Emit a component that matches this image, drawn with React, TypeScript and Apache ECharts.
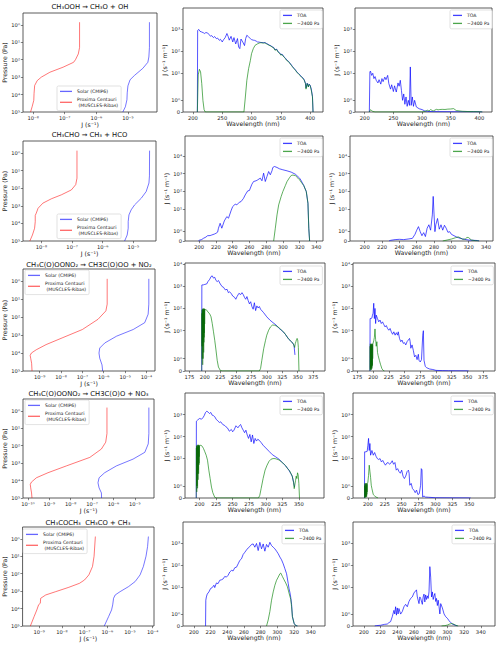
import React, { useEffect, useRef } from "react";
import * as echarts from "echarts";

type Pt = [number, number];

// ---------------- texts ----------------
const titles = [
  "CH₃OOH → CH₃O + OH",
  "CH₃CHO → CH₃ + HCO",
  "CH₃C(O)OONO₂ → CH3C(O)OO + NO₂",
  "CH₃C(O)OONO₂ → CH3C(O)O + NO₃",
  "CH₃COCH₃  CH₃CO + CH₃",
];
const solarName = "Solar (CMIP6)";
const proxName = "Proxima Centauri\n (MUSCLES-Ribas)";
const toaName = "TOA";
const lowName = "~2400 Pa";
const pressureLabel = "Pressure (Pa)";
const jLabel = "J (s⁻¹)";
const specYLabel = "J (s⁻¹ m⁻¹)";
const wlLabel = "Wavelength (nm)";

// ---------------- axis ticks / extents ----------------
const symTicks = [0, 1, 10, 100, 1000, 10000];
const wlTicks = [
  [200, 250, 300, 350, 400],
  [200, 220, 240, 260, 280, 300, 320, 340],
  [175, 200, 225, 250, 275, 300, 325, 350, 375],
  [200, 225, 250, 275, 300, 325, 350],
  [200, 220, 240, 260, 280, 300, 320, 340],
];
const wlExtents = [[183, 422], [183, 348], [168, 394], [178, 388], [187, 357]];
const jLogExtents = [[-8.32, -4.08], [-8.6, -4.26], [-9.78, -3.6], [-10.23, -4.1], [-9.73, -3.94]];
const pressureExtent = [0.21, 1e5];
const symMaxes = [4.8, 5.93, 4.85, 4.8, 4.8];

// ---------------- vertical profiles [J (s-1), P (Pa)] ----------------
const ch3oohSolarJ: Pt[] = [[4.79e-5, 0.708], [4.79e-5, 20], [4.6e-5, 70], [4.27e-5, 141], [2.95e-5, 316], [1.62e-5, 794], [1.17e-5, 1413], [1.0e-5, 3162], [9.5e-6, 7943], [9.3e-6, 19950], [8.3e-6, 50100], [6.9e-6, 100000]];
const ch3oohProxJ: Pt[] = [[2.95e-7, 0.708], [2.95e-7, 20], [2.69e-7, 46.8], [2.19e-7, 100], [1.91e-7, 141], [8.9e-8, 269], [3.39e-8, 525], [1.82e-8, 1000], [1.35e-8, 1585], [1.12e-8, 3020], [1.07e-8, 8900], [1.05e-8, 21400], [9.3e-9, 50100], [8.3e-9, 100000]];
const ch3choSolarJ: Pt[] = [[3.39e-5, 0.74], [3.36e-5, 20], [3.24e-5, 51], [2.63e-5, 155], [1.82e-5, 372], [1.1e-5, 891], [8.5e-6, 1700], [7.2e-6, 3311], [6.8e-6, 7943], [6.8e-6, 19050], [6.3e-6, 45700], [5.2e-6, 100000]];
const ch3choProxJ: Pt[] = [[1.45e-7, 0.74], [1.45e-7, 27], [1.32e-7, 63], [9.5e-8, 126], [4.47e-8, 240], [2.14e-8, 398], [1.12e-8, 708], [7.8e-9, 1380], [6.8e-9, 2630], [6.3e-9, 3550], [6.3e-9, 7943], [6.0e-9, 19050], [5.1e-9, 45700], [4.2e-9, 100000]];
const pan1SolarJ: Pt[] = [[1.29e-4, 0.74], [1.29e-4, 19], [1.2e-4, 69], [8.3e-5, 204], [2.4e-5, 490], [4.0e-6, 1150], [1.12e-6, 2750], [6.5e-7, 5250], [6.0e-7, 10000], [6.5e-7, 19500], [8.3e-7, 45700], [8.9e-7, 100000]];
const pan1ProxJ: Pt[] = [[1.45e-6, 0.74], [1.45e-6, 19], [1.26e-6, 45], [5.4e-7, 132], [1.0e-7, 490], [1.12e-8, 1445], [2.0e-9, 3390], [6.9e-10, 6600], [4.1e-10, 10000], [3.6e-10, 13500], [3.8e-10, 19500], [4.2e-10, 37150], [4.4e-10, 100000]];
const pan2SolarJ: Pt[] = [[4.57e-5, 0.65], [4.57e-5, 20], [4.27e-5, 79], [2.95e-5, 240], [8.3e-6, 589], [1.38e-6, 1445], [3.9e-7, 3550], [2.14e-7, 6900], [1.9e-7, 13500], [2.14e-7, 26300], [2.75e-7, 51300], [2.8e-7, 100000]];
const pan2ProxJ: Pt[] = [[5.0e-7, 0.65], [5.0e-7, 20], [4.37e-7, 63], [2.75e-7, 155], [7.9e-8, 468], [6.3e-9, 1445], [8.7e-10, 3550], [2.5e-10, 6900], [1.45e-10, 12300], [1.29e-10, 16600], [1.35e-10, 26300], [1.48e-10, 51300], [1.55e-10, 100000]];
const acetoneSolarJ: Pt[] = [[6.5e-5, 0.74], [6.0e-5, 2.75], [5.1e-5, 10], [3.9e-5, 39], [2.8e-5, 117], [1.7e-5, 282], [8.7e-6, 550], [3.7e-6, 1070], [2.24e-6, 1660], [1.9e-6, 2570], [1.74e-6, 6170], [1.55e-6, 12000], [1.15e-6, 28800], [7.4e-7, 100000]];
const acetoneProxJ: Pt[] = [[3.0e-7, 0.74], [2.63e-7, 10], [2.24e-7, 39], [1.55e-7, 117], [1.0e-7, 229], [6.0e-8, 355], [2.04e-8, 603], [5.4e-9, 1070], [1.95e-9, 1660], [1.17e-9, 2570], [1.12e-9, 5000], [9.5e-10, 6000], [7.9e-10, 12000], [6.0e-10, 28800], [4.1e-10, 100000]];

// ---------------- spectra [wavelength nm, J (s-1 m-1)] ----------------
const ch3oohSolarTOA: Pt[] = [[207.5, 0], [208, 900], [210, 1000], [212, 820], [215, 760], [218, 700], [220, 650], [222, 720], [225, 690], [228, 560], [230, 485], [232, 520], [235, 420], [237, 470], [240, 375], [242, 400], [245, 315], [247, 350], [250, 265], [252, 330], [255, 420], [258, 650], [260, 480], [262, 320], [265, 480], [268, 265], [270, 420], [273, 215], [276, 380], [278, 155], [280, 130], [282, 360], [285, 265], [288, 180], [290, 380], [292, 540], [295, 450], [298, 380], [300, 340], [303, 320], [305, 315], [308, 290], [310, 265], [313, 260], [316, 250], [320, 245], [323, 248], [325, 230], [328, 208], [330, 192], [333, 176], [335, 160], [338, 146], [340, 115], [343, 123], [345, 96], [348, 83], [350, 68], [352, 73], [355, 56], [358, 47], [360, 39], [363, 34], [365, 29], [368, 23], [370, 19.3], [373, 15.5], [375, 13.5], [378, 10.4], [380, 9.4], [383, 7.8], [385, 6.6], [388, 5.7], [390, 4.7], [392, 3.3], [393, 2.0], [395, 3.3], [397, 2.3], [398, 3.0], [400, 2.7], [402, 1.9], [404, 1.3], [405, 0]];
const ch3oohSolarLow: Pt[] = [[207.5, 0], [209, 8], [211, 14.5], [213, 11], [215, 3.2], [217, 0.97], [219, 0.2], [221, 0], [287, 0], [289, 1.0], [292, 4.5], [295, 15.5], [298, 37], [300, 76], [303, 130], [306, 185], [310, 215], [313, 235], [316, 245], [320, 235], [323, 240], [325, 220], [328, 200], [330, 185], [333, 170], [335, 155], [338, 140], [340, 110], [343, 118], [345, 92], [348, 80], [350, 65], [352, 70], [355, 54], [358, 45], [360, 37], [363, 33], [365, 28], [368, 22], [370, 18.6], [373, 15], [375, 13], [378, 10], [380, 9], [383, 7.5], [385, 6.4], [388, 5.5], [390, 4.5], [392, 3.2], [393, 1.9], [395, 3.2], [397, 2.2], [398, 2.9], [400, 2.6], [402, 1.8], [404, 1.25], [405, 0]];
const ch3oohProxTOA: Pt[] = [[208, 0], [209, 11], [210, 12], [212, 7.6], [214, 9.5], [216, 5.4], [218, 6.7], [220, 4.5], [223, 3.4], [225, 4.8], [228, 3.0], [230, 5.4], [232, 3.9], [235, 6.3], [237, 4.8], [240, 7.6], [242, 3.2], [245, 1.9], [247, 2.8], [250, 1.7], [252, 2.5], [255, 1.66], [258, 3.4], [260, 2.4], [262, 4.5], [264, 1.8], [266, 0.97], [268, 1.5], [270, 0.64], [272, 1.25], [274, 0.47], [276, 0.97], [278, 0.55], [279.5, 18.6], [281, 0.55], [283, 1.25], [285, 0.47], [287, 0.97], [290, 0.42], [295, 0.27], [300, 0.2], [305, 0.08], [310, 0.05], [320, 0.03], [350, 0.02], [400, 0.01], [405, 0]];
const ch3oohProxLow: Pt[] = [[208, 0], [210, 0.19], [212, 0.12], [214, 0.05], [218, 0], [300, 0], [305, 0.05], [310, 0.15], [312, 0.08], [315, 0.2], [318, 0.12], [320, 0.1], [325, 0.22], [328, 0.18], [330, 0.2], [335, 0.22], [340, 0.21], [345, 0.24], [350, 0.25], [355, 0.28], [358, 0.18], [360, 0.12], [370, 0.06], [380, 0.04], [390, 0.03], [400, 0.02], [405, 0]];

const ch3choSolarTOA: Pt[] = [[199, 0], [200, 0.07], [203, 0.15], [205, 0.27], [208, 0.4], [210, 0.54], [213, 0.55], [215, 0.61], [218, 0.7], [220, 0.78], [222, 0.9], [223, 1.3], [225, 1.8], [227, 1.3], [230, 2.1], [233, 3.7], [235, 3.0], [238, 7.8], [240, 13.6], [243, 18.6], [245, 17], [248, 24], [250, 26], [253, 40], [255, 62], [258, 105], [260, 110], [263, 250], [265, 355], [268, 390], [270, 440], [273, 550], [275, 390], [277, 1050], [279, 355], [281, 680], [283, 1300], [285, 850], [287, 1420], [288, 2200], [290, 2500], [293, 2200], [296, 1850], [300, 1630], [305, 1420], [310, 1200], [315, 910], [320, 550], [322, 390], [325, 210], [328, 96], [330, 21], [331, 1.3], [332, 0]];
const ch3choSolarLow: Pt[] = [[289, 0], [291, 1.3], [293, 4.6], [295, 17], [298, 51], [300, 96], [303, 210], [305, 355], [308, 590], [310, 780], [312, 820], [315, 760], [318, 550], [320, 440], [322, 320], [325, 210], [328, 96], [330, 21], [331, 1.3], [332, 0]];
const ch3choProxTOA: Pt[] = [[228, 0], [230, 0.07], [235, 0.14], [240, 0.17], [245, 0.14], [250, 0.2], [255, 0.27], [258, 0.68], [260, 1.1], [262, 1.46], [264, 0.95], [266, 0.54], [268, 0.85], [270, 0.45], [272, 1.3], [274, 1.65], [276, 1.1], [278, 4.6], [279, 51], [280, 4.6], [281, 0.95], [282, 1.65], [284, 2.9], [286, 1.2], [288, 1.65], [290, 1.1], [292, 1.6], [294, 1.3], [296, 0.88], [298, 0.95], [300, 0.68], [303, 0.54], [306, 0.41], [310, 0.27], [315, 0.17], [320, 0.1], [325, 0.07], [330, 0.05], [332, 0]];
const ch3choProxLow: Pt[] = [[290, 0], [295, 0.1], [300, 0.2], [305, 0.34], [308, 0.41], [310, 0.34], [313, 0.17], [316, 0.2], [318, 0.37], [320, 0.34], [323, 0.1], [328, 0.03], [332, 0]];

const pan1SolarTOA: Pt[] = [[195, 0], [195.2, 1130], [198, 1150], [200, 1200], [203, 1250], [205, 1600], [208, 2050], [210, 2700], [212, 2900], [214, 2300], [216, 2500], [218, 1800], [220, 1600], [222, 1800], [225, 1250], [228, 950], [230, 900], [233, 680], [236, 720], [238, 510], [240, 560], [243, 450], [245, 360], [248, 316], [250, 258], [252, 340], [255, 475], [258, 420], [260, 510], [262, 420], [264, 316], [266, 258], [268, 340], [270, 225], [272, 160], [274, 200], [276, 122], [278, 92], [280, 180], [282, 80], [284, 130], [286, 105], [288, 122], [290, 92], [295, 64], [300, 42], [305, 30], [310, 23], [315, 18], [320, 12.6], [325, 9.8], [330, 6.9], [333, 5.2], [336, 4.0], [340, 3.2], [343, 2.5], [344, 2.2], [345.5, 1.3]];
const pan1SolarBand: Pt[] = [[195, 0], [195.2, 60], [195.4, 2], [195.6, 85], [195.8, 1], [196, 95], [196.2, 3], [196.4, 70], [196.6, 0.5], [196.8, 90], [197, 2], [197.2, 100], [197.4, 1], [197.6, 80], [197.8, 4], [198, 95], [198.2, 1.5], [198.4, 88], [198.6, 3], [198.8, 100], [199, 5], [199.2, 92], [199.4, 8], [199.6, 95], [199.8, 20], [200, 85]];
const pan1SolarLow: Pt[] = [[200, 85], [202, 90], [205, 70], [208, 56], [210, 42], [212, 21], [214, 8.9], [216, 3.7], [218, 1.7], [220, 0.86], [222, 0.32], [225, 0.05], [228, 0], [288, 0], [290, 0.2], [292, 0.86], [295, 1.8], [298, 3.7], [300, 6.3], [303, 10.5], [306, 14.8], [309, 17.8], [312, 17.8], [315, 16.5], [318, 14.8], [321, 12.6], [324, 10.5], [327, 8.9], [330, 6.9], [333, 5.2], [336, 4.0], [340, 3.2], [343, 2.5], [345, 1.9], [346, 2.6], [347, 3.2], [348, 4.0], [349, 4.5], [350, 3.8], [351, 1.9], [352, 0]];
const pan1ProxTOA: Pt[] = [[195, 0], [195.2, 35], [197, 35], [198, 37], [199, 50], [200, 61], [201, 170], [202, 35], [203, 100], [204, 21], [205, 50], [207, 35], [209, 25], [211, 30], [213, 21], [215, 25], [217, 19], [219, 14.8], [221, 17], [223, 12.6], [225, 10.5], [227, 12.6], [229, 8.9], [231, 6.9], [233, 8.9], [235, 6.3], [237, 8.1], [239, 6.3], [240, 8.9], [242, 4.5], [244, 3.2], [246, 3.8], [248, 2.7], [250, 2.9], [252, 2.3], [254, 3.2], [256, 3.8], [258, 4.5], [259, 3.2], [260, 1.84], [262, 2.3], [264, 1.67], [266, 1.14], [268, 1.27], [270, 0.92], [272, 1.35], [273, 0.87], [275, 0.73], [277, 0.92], [279, 6.3], [280, 10], [281, 0.87], [283, 0.38], [285, 0.27], [290, 0.16], [295, 0.12], [300, 0.05], [310, 0.03], [320, 0.02], [350, 0.01], [352, 0]];
const pan1ProxBand: Pt[] = [[195, 0], [195.2, 2.0], [195.4, 0.1], [195.6, 2.6], [195.8, 0.2], [196, 2.2], [196.2, 0.1], [196.4, 2.5], [196.6, 0.3], [196.8, 2.0], [197, 0.2], [197.2, 2.6], [197.4, 0.1], [197.6, 2.3], [197.8, 0.3], [198, 2.5], [198.2, 0.2], [198.4, 2.1], [198.6, 0.4], [198.8, 2.6], [199, 0.5], [199.2, 2.4], [199.4, 1.0], [199.6, 2.5]];
const pan1ProxLow: Pt[] = [[199.6, 2.5], [200, 2.5], [201, 3.5], [202, 5], [203, 12], [204, 4], [205, 2.0], [206, 3.2], [207, 1.5], [208, 1.25], [210, 0.86], [212, 0.5], [214, 0.19], [216, 0.05], [218, 0]];

const pan2SolarTOA: Pt[] = [[195, 0], [195.2, 500], [197, 565], [200, 670], [203, 620], [205, 720], [207, 900], [209, 1260], [211, 1440], [213, 1300], [215, 1125], [217, 1260], [219, 950], [221, 900], [223, 800], [225, 620], [228, 500], [230, 440], [232, 470], [235, 355], [238, 320], [240, 275], [242, 250], [245, 175], [248, 210], [250, 165], [252, 195], [255, 310], [258, 250], [260, 310], [262, 355], [264, 250], [266, 195], [268, 150], [270, 195], [272, 118], [274, 82], [276, 125], [278, 57], [280, 118], [282, 48], [284, 82], [286, 62], [288, 75], [290, 68], [293, 53], [296, 40], [300, 30], [305, 21], [310, 14.8], [315, 11.8], [320, 9.2], [325, 6.5], [330, 4.6], [335, 2.9], [338, 2.0], [340, 1.8], [342, 1.3], [343.5, 0.9]];
const pan2SolarBand: Pt[] = [[195, 0], [195.2, 30], [195.4, 1], [195.6, 38], [195.8, 0.5], [196, 35], [196.2, 2], [196.4, 40], [196.6, 1], [196.8, 32], [197, 0.8], [197.2, 42], [197.4, 2], [197.6, 36], [197.8, 1.5], [198, 40], [198.2, 3], [198.4, 38], [198.6, 2], [198.8, 42], [199, 5], [199.2, 40], [199.4, 6], [199.6, 38], [199.8, 12], [200, 38]];
const pan2SolarLow: Pt[] = [[200, 38], [202, 40], [204, 36], [206, 28], [208, 20], [210, 14], [212, 8.3], [214, 2.9], [216, 1.6], [218, 0.9], [220, 0.44], [223, 0.05], [226, 0], [289, 0], [291, 0.22], [293, 0.77], [296, 1.6], [299, 2.9], [302, 4.9], [305, 7.4], [308, 9.2], [311, 9.8], [314, 9.8], [317, 9.2], [320, 8.5], [323, 7.2], [326, 6.1], [330, 4.6], [333, 3.4], [336, 2.7], [340, 1.8], [342, 1.3], [343, 0.77], [345, 1.43], [346, 1.8], [347, 1.6], [348, 2.2], [349, 1.9], [350, 1.2], [351, 0]];
const pan2ProxTOA: Pt[] = [[195, 0], [195.2, 20], [197, 20], [199, 21], [200, 40], [201, 82], [202, 23], [203, 48], [204, 14], [206, 23], [208, 14], [210, 18.6], [212, 12.6], [214, 9.8], [216, 8.9], [218, 9.8], [220, 6.9], [222, 8.1], [224, 6.1], [226, 4.9], [228, 6.1], [230, 6.5], [232, 5.4], [234, 6.1], [236, 7.8], [238, 5.4], [240, 6.5], [242, 2.9], [244, 3.4], [246, 2.5], [248, 2.1], [250, 2.9], [252, 1.8], [254, 1.6], [256, 1.8], [258, 2.5], [260, 2.9], [261, 2.1], [262, 1.05], [264, 1.2], [266, 0.77], [268, 0.65], [270, 0.44], [272, 0.65], [274, 0.28], [276, 0.36], [278, 1.05], [279, 3.4], [280, 3.0], [281, 0.08], [283, 0.17], [285, 0.08], [290, 0.06], [300, 0.02], [325, 0.01], [350, 0.005], [352, 0]];
const pan2ProxBand: Pt[] = [[195, 0], [195.2, 1.0], [195.4, 0.05], [195.6, 1.2], [195.8, 0.1], [196, 1.1], [196.2, 0.05], [196.4, 1.2], [196.6, 0.1], [196.8, 0.9], [197, 0.05], [197.2, 1.2], [197.4, 0.1], [197.6, 1.0], [197.8, 0.2], [198, 1.2], [198.2, 0.1], [198.4, 1.1], [198.6, 0.3], [198.8, 1.2], [199, 0.5], [199.2, 1.2]];
const pan2ProxLow: Pt[] = [[199.2, 1.2], [200, 1.3], [201, 1.86], [202, 4.9], [203, 2.6], [204, 1.7], [205, 1.05], [206, 0.77], [208, 0.28], [210, 0.17], [212, 0.08], [215, 0]];

const acetoneSolarTOA: Pt[] = [[214, 0], [214.3, 2.4], [215, 3.4], [216, 4.6], [218, 5.8], [220, 8.3], [222, 9.2], [224, 11.8], [225, 9.2], [227, 15], [229, 14], [231, 20], [233, 21], [235, 23], [237, 30], [239, 28], [241, 34], [243, 48], [245, 57], [247, 54], [249, 76], [251, 80], [253, 114], [255, 165], [257, 195], [259, 310], [261, 390], [263, 500], [265, 620], [267, 720], [269, 900], [271, 950], [273, 670], [275, 1000], [277, 470], [279, 1125], [281, 565], [283, 950], [285, 440], [287, 900], [289, 670], [291, 1125], [293, 800], [295, 670], [297, 565], [299, 440], [301, 335], [303, 235], [305, 175], [307, 114], [309, 68], [311, 40], [313, 14], [314, 8], [315, 5.5], [316, 3.2], [317, 1.8], [318, 0.77], [320, 0.22], [322, 0.03], [324, 0]];
const acetoneSolarLow: Pt[] = [[287, 0], [289, 0.5], [291, 1.2], [293, 2.4], [295, 5.8], [297, 11.8], [299, 20], [301, 28], [303, 40], [304, 43], [306, 30], [308, 21], [310, 15], [312, 10], [314, 5], [316, 2.6], [317, 1.6], [318, 0.77], [320, 0.22], [322, 0.03], [324, 0]];
const acetoneProxTOA: Pt[] = [[213, 0], [215, 0.03], [220, 0.06], [225, 0.14], [228, 0.16], [230, 0.28], [232, 0.36], [234, 0.77], [236, 1.3], [237, 1.0], [238, 1.6], [239, 0.9], [240, 1.5], [241, 1.0], [242, 1.45], [244, 0.99], [246, 1.2], [248, 1.6], [250, 1.8], [252, 1.6], [254, 2.1], [256, 2.9], [258, 3.4], [260, 5.2], [262, 6.5], [263, 7.2], [264, 3.4], [266, 1.86], [267, 3.4], [268, 2.9], [270, 1.8], [271, 3.4], [272, 4.6], [273, 2.0], [274, 4.2], [275, 2.6], [276, 3.8], [277, 2.9], [278, 5.8], [279, 85], [280, 28], [281, 3.4], [282, 5.8], [283, 2.6], [284, 3.8], [285, 4.9], [286, 2.1], [287, 2.9], [288, 1.7], [289, 2.4], [290, 1.6], [291, 1.0], [292, 1.86], [294, 1.5], [296, 1.0], [298, 0.77], [300, 0.64], [302, 0.44], [304, 0.28], [306, 0.17], [308, 0.1], [310, 0.05], [312, 0]];
const acetoneProxLow: Pt[] = [[293, 0], [297, 0.03], [300, 0.08], [303, 0.17], [305, 0.2], [307, 0.17], [310, 0.06], [313, 0]];

// ---------------- grouping ----------------
const profileSets = [
  [ch3oohSolarJ, ch3oohProxJ],
  [ch3choSolarJ, ch3choProxJ],
  [pan1SolarJ, pan1ProxJ],
  [pan2SolarJ, pan2ProxJ],
  [acetoneSolarJ, acetoneProxJ],
];
const solarSpectra = [
  { toa: ch3oohSolarTOA, band: null as Pt[] | null, low: ch3oohSolarLow },
  { toa: ch3choSolarTOA, band: null as Pt[] | null, low: ch3choSolarLow },
  { toa: pan1SolarTOA, band: pan1SolarBand, low: pan1SolarLow },
  { toa: pan2SolarTOA, band: pan2SolarBand, low: pan2SolarLow },
  { toa: acetoneSolarTOA, band: null as Pt[] | null, low: acetoneSolarLow },
];
const proxSpectra = [
  { toa: ch3oohProxTOA, band: null as Pt[] | null, low: ch3oohProxLow },
  { toa: ch3choProxTOA, band: null as Pt[] | null, low: ch3choProxLow },
  { toa: pan1ProxTOA, band: pan1ProxBand, low: pan1ProxLow },
  { toa: pan2ProxTOA, band: pan2ProxBand, low: pan2ProxLow },
  { toa: acetoneProxTOA, band: null as Pt[] | null, low: acetoneProxLow },
];

// ---------------- layout ----------------
const layout = [
  { titleY: 7, L: [23, 13, 134, 99], M: [183, 8, 140, 104], R: [355, 8, 137, 104], legL: [57, 86], legM: [280, 10], legR: [450, 10] },
  { titleY: 135, L: [23, 141, 133, 100], M: [185, 136, 138, 105], R: [350, 136, 143, 105], legL: [57, 214], legM: [280, 138], legR: [450, 138] },
  { titleY: 265, L: [23, 269, 132, 102], M: [185, 263, 140, 108], R: [353, 263, 142, 108], legL: [25, 270], legM: [280, 266], legR: [451, 266] },
  { titleY: 394, L: [23, 399, 131, 99], M: [185, 393, 139, 105], R: [353, 393, 142, 105], legL: [25, 400], legM: [280, 396], legR: [451, 396] },
  { titleY: 523, L: [22, 527, 132, 99], M: [183, 522, 142, 104], R: [353, 522, 142, 104], legL: [23, 529], legM: [282, 525], legR: [452, 525] },
];

const FONT = "DejaVu Sans";
const INK = "#1a1a1a";
const FRAME = "#333";
const C_SOLAR = "rgba(0,0,255,0.6)";
const C_PROX = "rgba(255,0,0,0.6)";
const C_TOA = "rgba(0,0,255,0.75)";
const C_LOW = "rgba(0,128,0,0.7)";
const C_BAND = "#0a6a0a";

// symlog scale (linthresh 2, linscale 1, base 10), in units of linthresh
const LINTHRESH = 2;
const LINSCALE_ADJ = 1 / (1 - 1 / 10);
function symlog(v: number): number {
  const a = Math.abs(v);
  if (a <= LINTHRESH) return (v * LINSCALE_ADJ) / LINTHRESH;
  return Math.sign(v) * (LINSCALE_ADJ + Math.log10(a / LINTHRESH));
}
const SUP: Record<string, string> = { "0": "⁰", "1": "¹", "2": "²", "3": "³", "4": "⁴", "5": "⁵", "6": "⁶", "7": "⁷", "8": "⁸", "9": "⁹", "-": "⁻" };
const sup = (n: number) => String(n).split("").map((c) => SUP[c] || c).join("");
const powLabel = (v: number) => "10" + sup(Math.round(Math.log10(v)));
const symFormatter = (v: number) => {
  const t = symTicks.find((t) => Math.abs(symlog(t) - v) < 1e-6);
  if (t === undefined) return "";
  return t === 0 ? "0" : powLabel(t);
};

function buildOption() {
  const grid: any[] = [];
  const xAxis: any[] = [];
  const yAxis: any[] = [];
  const series: any[] = [];
  const legend: any[] = [];
  const graphic: any[] = [];

  const tickStyle = { show: true, length: 2.2, lineStyle: { color: FRAME, width: 0.6 } };
  const hiddenLine = { show: false, lineStyle: { color: INK } };
  const labelBase = { color: INK, fontSize: 5.2, fontFamily: FONT };
  const nameStyle = { color: INK, fontSize: 6.2, fontFamily: FONT, fontWeight: "normal" };
  const legendBase = {
    orient: "vertical",
    icon: "rect",
    itemHeight: 1.3,
    itemGap: 2.2,
    padding: [2.5, 3, 2.5, 3],
    borderColor: "#cfcfcf",
    borderWidth: 0.6,
    borderRadius: 1.5,
    backgroundColor: "rgba(255,255,255,0.85)",
    selectedMode: false,
    textStyle: { color: INK, fontSize: 4.6, fontFamily: FONT, lineHeight: 5.8 },
  };
  const addGrid = (r: number[]) => {
    grid.push({ left: r[0], top: r[1], width: r[2], height: r[3], show: true, borderColor: FRAME, borderWidth: 0.8, backgroundColor: "transparent" });
    return grid.length - 1;
  };
  const line = (gi: number, name: string, data: Pt[], color: string, width = 0.9, z = 2) => ({
    type: "line", name, xAxisIndex: gi, yAxisIndex: gi, data, showSymbol: false, symbol: "none",
    lineStyle: { color, width }, itemStyle: { color }, silent: true, z, animation: false,
  });

  layout.forEach((row, i) => {
    graphic.push({
      type: "text", x: row.L[0] + row.L[2] / 2, y: row.titleY, silent: true,
      style: { text: titles[i], fill: "#111", fontSize: 6.8, fontFamily: FONT, align: "center", verticalAlign: "middle", textAlign: "center", textVerticalAlign: "middle" },
    });

    // ---- left: J profile vs pressure (log/log)
    const gL = addGrid(row.L);
    xAxis.push({
      gridIndex: gL, type: "log", logBase: 10, min: Math.pow(10, jLogExtents[i][0]), max: Math.pow(10, jLogExtents[i][1]),
      axisLine: hiddenLine, axisTick: tickStyle, splitLine: { show: false },
      axisLabel: { ...labelBase, margin: 3, showMinLabel: false, showMaxLabel: false, formatter: (v: number) => powLabel(v) },
      name: jLabel, nameLocation: "middle", nameGap: 9.5, nameTextStyle: nameStyle,
    });
    yAxis.push({
      gridIndex: gL, type: "log", logBase: 10, inverse: true, min: pressureExtent[0], max: pressureExtent[1],
      axisLine: hiddenLine, axisTick: tickStyle, splitLine: { show: false },
      axisLabel: { ...labelBase, margin: 3, showMinLabel: false, showMaxLabel: true, formatter: (v: number) => powLabel(v) },
      name: pressureLabel, nameLocation: "middle", nameGap: 11, nameTextStyle: nameStyle,
    });
    series.push(line(gL, solarName, profileSets[i][0], C_SOLAR));
    series.push(line(gL, proxName, profileSets[i][1], C_PROX));
    legend.push({ ...legendBase, itemWidth: 12, left: row.legL[0], top: row.legL[1], data: [solarName, proxName] });

    // ---- middle (solar) & right (Proxima): spectra on symlog axis
    const specs = [
      { rect: row.M, sp: solarSpectra[i], leg: row.legM },
      { rect: row.R, sp: proxSpectra[i], leg: row.legR },
    ];
    specs.forEach(({ rect, sp, leg }) => {
      const g = addGrid(rect);
      xAxis.push({
        gridIndex: g, type: "value", min: wlExtents[i][0], max: wlExtents[i][1],
        axisLine: hiddenLine, splitLine: { show: false },
        axisTick: { ...tickStyle, customValues: wlTicks[i] },
        axisLabel: { ...labelBase, margin: 3, customValues: wlTicks[i] },
        name: wlLabel, nameLocation: "middle", nameGap: 8.5, nameTextStyle: nameStyle,
      });
      const yt = symTicks.filter((t) => symlog(t) <= symMaxes[i] + 1e-9).map(symlog);
      yAxis.push({
        gridIndex: g, type: "value", min: 0, max: symMaxes[i],
        axisLine: hiddenLine, splitLine: { show: false },
        axisTick: { ...tickStyle, customValues: yt },
        axisLabel: { ...labelBase, margin: 3, customValues: yt, formatter: symFormatter },
        name: specYLabel, nameLocation: "middle", nameGap: 12, nameTextStyle: nameStyle,
      });
      const tr = (d: Pt[]) => d.map(([x, y]) => [x, symlog(y)] as Pt);
      series.push(line(g, toaName, tr(sp.toa), C_TOA));
      if (sp.band) series.push(line(g, "band", tr(sp.band), C_BAND, 0.5, 3));
      series.push(line(g, lowName, tr(sp.low), C_LOW, 0.9, 3));
      legend.push({ ...legendBase, itemWidth: 9, left: leg[0], top: leg[1], data: [toaName, lowName] });
    });
  });

  return { animation: false, backgroundColor: "#fff", textStyle: { fontFamily: FONT }, grid, xAxis, yAxis, series, legend, graphic };
}

export default function App() {
  const ref = useRef<HTMLDivElement>(null);
  useEffect(() => {
    if (!ref.current) return;
    const chart = echarts.init(ref.current, undefined, { renderer: "svg" });
    chart.setOption(buildOption() as any);
    return () => chart.dispose();
  }, []);
  return <div ref={ref} style={{ position: "fixed", left: 0, top: 0, width: 500, height: 647, background: "#fff" }} />;
}
